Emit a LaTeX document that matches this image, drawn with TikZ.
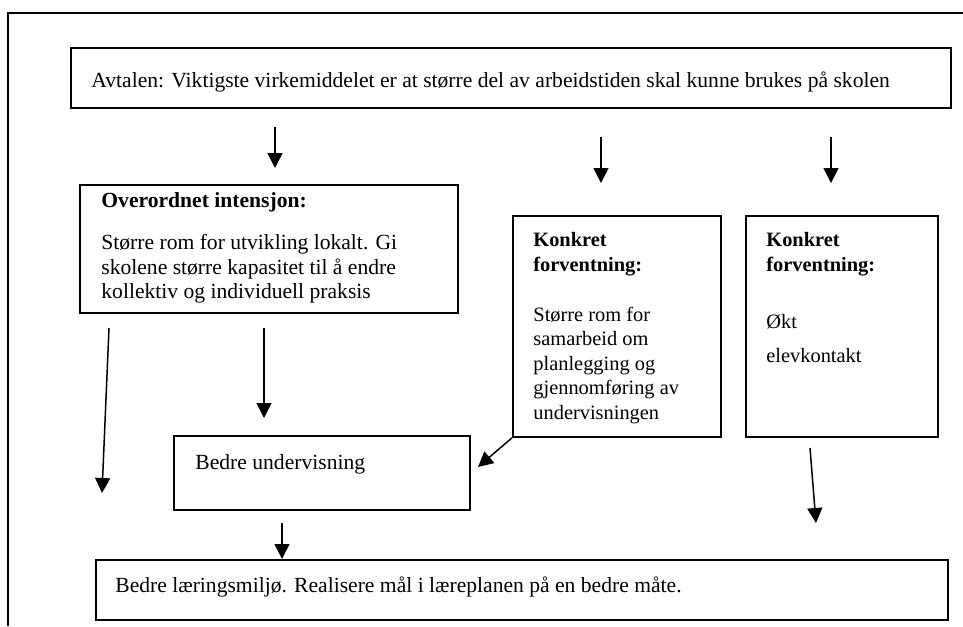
\documentclass[tikz,border=0pt]{standalone}
\usepackage{fontspec}
\setmainfont{Liberation Serif}
\usetikzlibrary{arrows.meta, positioning}

\begin{document}
\begin{tikzpicture}[
        x=0.5pt, y=-0.5pt,
        box/.style={rectangle, draw, line width=0.9pt, anchor=north west, inner sep=0pt},
        txt/.style={inner sep=0pt, align=left, font=\fontsize{10.8}{12.25}\selectfont},
        smalltxt/.style={txt, font=\fontsize{10.2}{12.25}\selectfont},
        arr/.style={-{Triangle[length=7.5pt, width=7.5pt]}, line width=0.75pt}
    ]
    \useasboundingbox (0,0) rectangle (963,626);
    \draw[line width=0.9pt] (963,13) -- (8,13) -- (8,626);

    \node[box, minimum width=440pt, minimum height=30pt] (avtale) at (70,47) {};
    \node[box, minimum width=189pt, minimum height=64pt] (intensjon) at (79,184) {};
    \node[box, minimum width=104pt, minimum height=110.5pt] (samarbeid) at (512,215) {};
    \node[box, minimum width=96pt, minimum height=110.5pt] (elevkontakt) at (745,215) {};
    \node[box, minimum width=148pt, minimum height=37pt] (undervisning) at (173,435) {};
    \node[box, minimum width=426pt, minimum height=30pt] (miljo) at (95,559) {};

    \node[txt, below right=12pt and 10.5pt of avtale.north west] (avtaletxt)
        {Avtalen: Viktigste virkemiddelet er at større del av arbeidstiden skal kunne brukes på skolen};
    \node[txt, below right=4.2pt and 11pt of intensjon.north west] (intensjontxt)
        {\textbf{Overordnet intensjon:}\\[8.75pt]
         Større rom for utvikling lokalt. Gi\\
         skolene større kapasitet til å endre\\
         kollektiv og individuell praksis};
    \node[smalltxt, below right=8.5pt and 10.5pt of samarbeid.north west] (samarbeidtxt)
        {\textbf{Konkret}\\ \textbf{forventning:}\\[12.75pt]
         Større rom for\\ samarbeid om\\ planlegging og\\ gjennomføring av\\ undervisningen};
    \node[smalltxt, below right=8.5pt and 10.5pt of elevkontakt.north west] (elevkontakttxt)
        {\textbf{Konkret}\\ \textbf{forventning:}\\[16.25pt] Økt\\[4.75pt] elevkontakt};
    \node[txt, below right=9.5pt and 11pt of undervisning.north west] (undervisningtxt)
        {Bedre undervisning};
    \node[txt, below right=8.5pt and 10pt of miljo.north west] (miljotxt)
        {Bedre læringsmiljø. Realisere mål i læreplanen på en bedre måte.};

    \coordinate (a1s) at (275,127);
    \coordinate (a1e) at (275,168);
    \coordinate (a2s) at (601,137);
    \coordinate (a2e) at (601,183);
    \coordinate (a3s) at (831,137);
    \coordinate (a3e) at (831,183);
    \coordinate (a4s) at (109,328);
    \coordinate (a4e) at (102,493);
    \coordinate (a5s) at (264,328);
    \coordinate (a5e) at (264,418);
    \coordinate (a6e) at (478,467);
    \coordinate (a7s) at (810,448);
    \coordinate (a7e) at (816,523);
    \coordinate (a8s) at (282,523);

    \draw[arr] (a1s) -- (a1e);
    \draw[arr] (a2s) -- (a2e);
    \draw[arr] (a3s) -- (a3e);
    \draw[arr] (a4s) -- (a4e);
    \draw[arr] (a5s) -- (a5e);
    \draw[arr] (samarbeid.south west) -- (a6e);
    \draw[arr] (a7s) -- (a7e);
    \draw[arr] (a8s) -- (a8s |- miljo.north);
\end{tikzpicture}
\end{document}
